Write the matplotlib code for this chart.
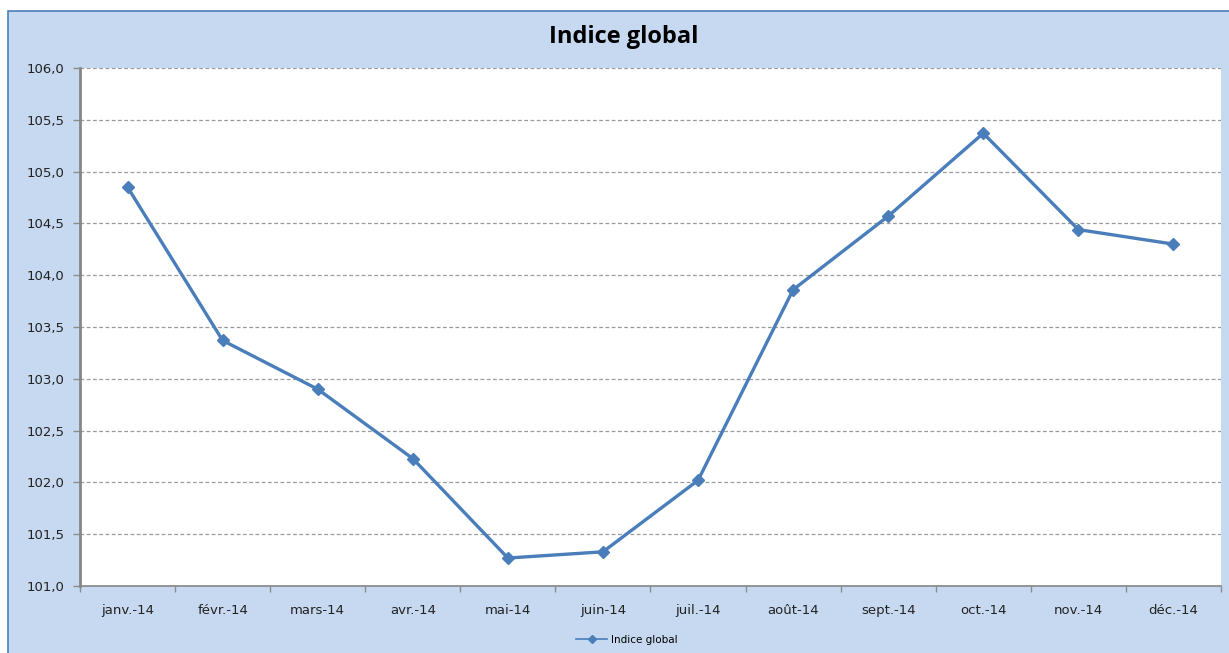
import numpy as np
import matplotlib
matplotlib.use('Agg')
import matplotlib.pyplot as plt
from matplotlib.patches import Rectangle
from matplotlib.lines import Line2D

# data
months = ['janv.-14', 'févr.-14', 'mars-14', 'avr.-14', 'mai-14', 'juin-14',
          'juil.-14', 'août-14', 'sept.-14', 'oct.-14', 'nov.-14', 'déc.-14']
indice = [104.85, 103.37, 102.90, 102.23, 101.27, 101.33,
          102.02, 103.86, 104.57, 105.37, 104.44, 104.30]
yticks = [101.0, 101.5, 102.0, 102.5, 103.0, 103.5, 104.0, 104.5, 105.0, 105.5, 106.0]

bg = '#C6D9F0'
blue = '#4A7EBB'
W, H = 1229, 653

fig = plt.figure(figsize=(W / 100, H / 100), dpi=100)
fig.patch.set_facecolor('white')
# chart area frame
fig.patches.append(Rectangle((8 / W, -0.01), 1.02, 1 - 11 / H + 0.01, transform=fig.transFigure,
                             facecolor=bg, edgecolor=blue, linewidth=1.2, zorder=-10))

ax = fig.add_axes([80 / W, (H - 586) / H, 1141 / W, 518 / H])
ax.set_zorder(1)
ax.set_facecolor('white')

x = np.arange(len(months))
ax.plot(x, indice, color=blue, lw=2.4, marker='D', ms=6.5, mec=blue, mfc=blue, zorder=3)

ax.set_xlim(-0.5, len(months) - 0.5)
ax.set_ylim(101, 106)
ax.set_yticks(yticks)
ax.set_yticklabels([f'{v:.1f}'.replace('.', ',') for v in yticks])
ax.set_xticks(x)
ax.set_xticklabels(months)
ax.set_xticks(np.arange(-0.5, len(months)), minor=True)
ax.tick_params(axis='x', which='major', length=0, pad=13, labelsize=9.5)
ax.tick_params(axis='x', which='minor', length=4, color='#8C8C8C', width=1)
ax.tick_params(axis='y', length=5, color='#8C8C8C', width=1, pad=6, labelsize=9.5)
for lab in ax.get_yticklabels() + ax.get_xticklabels():
    lab.set_color('#222222')

ax.yaxis.grid(True, color='#9A9A9A', linestyle=(0, (3, 2)), linewidth=0.9)
ax.set_axisbelow(True)
for s in ['top', 'right']:
    ax.spines[s].set_visible(False)
ax.spines['left'].set_color('#868686')
ax.spines['left'].set_linewidth(2)
ax.spines['bottom'].set_color('#868686')
ax.spines['bottom'].set_linewidth(1.2)

fig.text(624 / W, 1 - 37 / H, 'Indice global', ha='center', va='center',
         fontsize=17, fontweight='bold', family=['Open Sans', 'DejaVu Sans'], color='black')

handle = Line2D([], [], color=blue, lw=1.2, marker='D', ms=4.5, mec=blue, mfc=blue)
fig.legend([handle], ['Indice global'], loc='center', bbox_to_anchor=(627 / W, 13 / H),
           frameon=False, fontsize=7.5, handlelength=3, handletextpad=0.4)

fig.savefig('out.png', dpi=100, facecolor=fig.get_facecolor())
